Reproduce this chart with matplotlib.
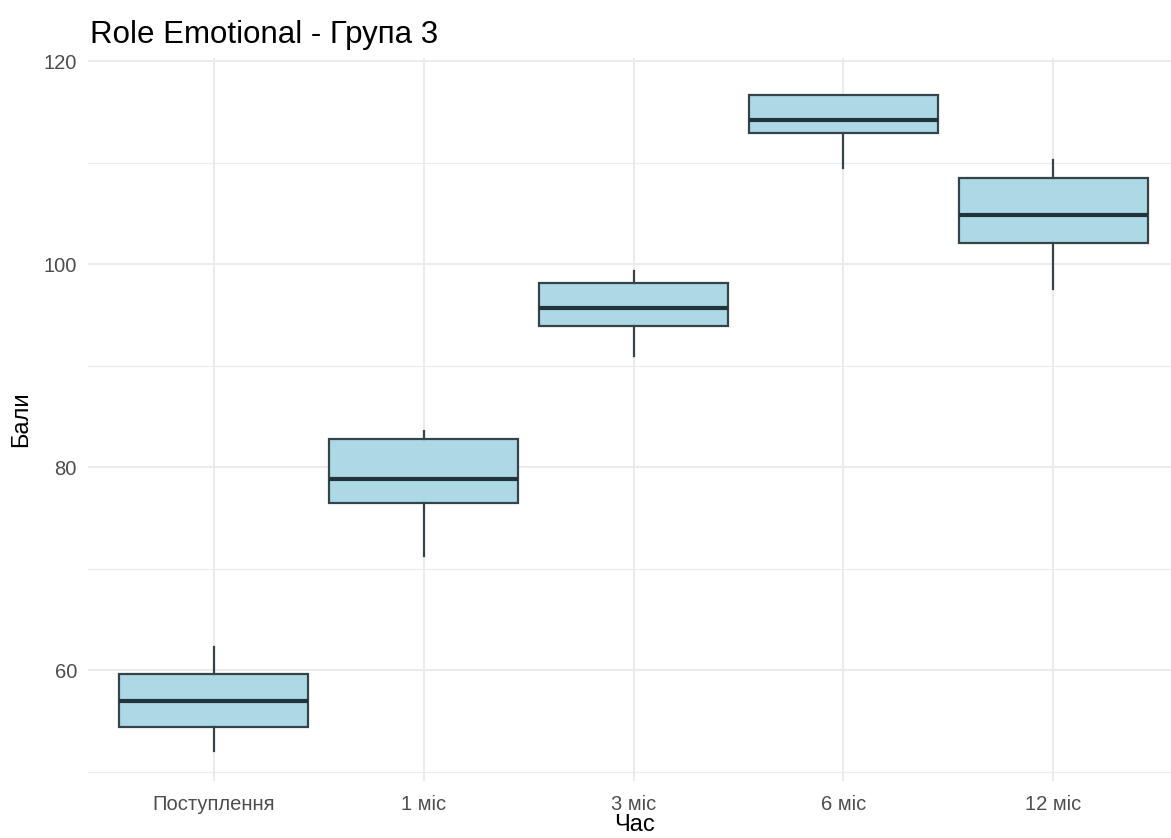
import matplotlib
matplotlib.use("Agg")
import matplotlib.pyplot as plt

plt.rcParams["font.family"] = ["Liberation Sans", "DejaVu Sans"]

# Box statistics per time point (Role Emotional scores, group 3)
periods = ["Поступлення", "1 міс", "3 міс", "6 міс", "12 міс"]
whisker_low = [52.1, 71.3, 91.0, 109.5, 97.6]
q1 = [54.4, 76.5, 93.9, 112.9, 102.1]
median = [57.0, 78.9, 95.7, 114.2, 104.9]
q3 = [59.6, 82.8, 98.2, 116.7, 108.5]
whisker_high = [62.3, 83.6, 99.3, 116.7, 110.3]

y_major = [60, 80, 100, 120]
y_minor = [50, 70, 90, 110]

FILL = "#add8e6"
EDGE = "#34444a"
GRID = "#ebebeb"


def main():
    fig = plt.figure(figsize=(11.71, 8.38), dpi=100)
    W, H = 1171, 838
    left, right, top, bottom = 88, 1179, 58.3, 781
    ax = fig.add_axes([left / W, 1 - bottom / H, (right - left) / W, (bottom - top) / H])

    stats = []
    for i, name in enumerate(periods):
        stats.append({
            "label": name,
            "whislo": whisker_low[i],
            "q1": q1[i],
            "med": median[i],
            "q3": q3[i],
            "whishi": whisker_high[i],
            "fliers": [],
        })

    positions = list(range(1, len(periods) + 1))
    ax.bxp(
        stats,
        positions=positions,
        widths=0.9,
        patch_artist=True,
        showcaps=False,
        showfliers=False,
        boxprops=dict(facecolor=FILL, edgecolor=EDGE, linewidth=1.6),
        whiskerprops=dict(color=EDGE, linewidth=1.6),
        medianprops=dict(color="#22343a", linewidth=3.0),
        zorder=3,
    )

    ax.set_xlim(0.4, 5.6)
    ax.set_ylim(49.1, 120.3)

    # grid in the style of a minimal theme
    for v in y_minor:
        ax.axhline(v, color=GRID, linewidth=0.8, zorder=0)
    for v in y_major:
        ax.axhline(v, color=GRID, linewidth=1.4, zorder=0)
    for p in positions:
        ax.axvline(p, color=GRID, linewidth=1.4, zorder=0)

    ax.set_yticks(y_major)
    ax.set_xticks(positions)
    ax.set_xticklabels(periods)
    ax.tick_params(axis="both", length=0, labelsize=14.5, labelcolor="#4d4d4d")
    ax.tick_params(axis="x", pad=10)
    ax.tick_params(axis="y", pad=8)
    for s in ax.spines.values():
        s.set_visible(False)

    ax.set_ylabel("Бали", fontsize=17, color="black", labelpad=8)
    # x title sits right at the lower edge
    fig.text(635 / W, 1 - 831 / H, "Час", fontsize=17, color="black",
             ha="center", va="baseline")

    fig.text(90 / W, 1 - 43 / H, "Role Emotional - Група 3", fontsize=22.5,
             color="black", ha="left", va="baseline")

    fig.savefig("out.png", dpi=100)


if __name__ == "__main__":
    main()
